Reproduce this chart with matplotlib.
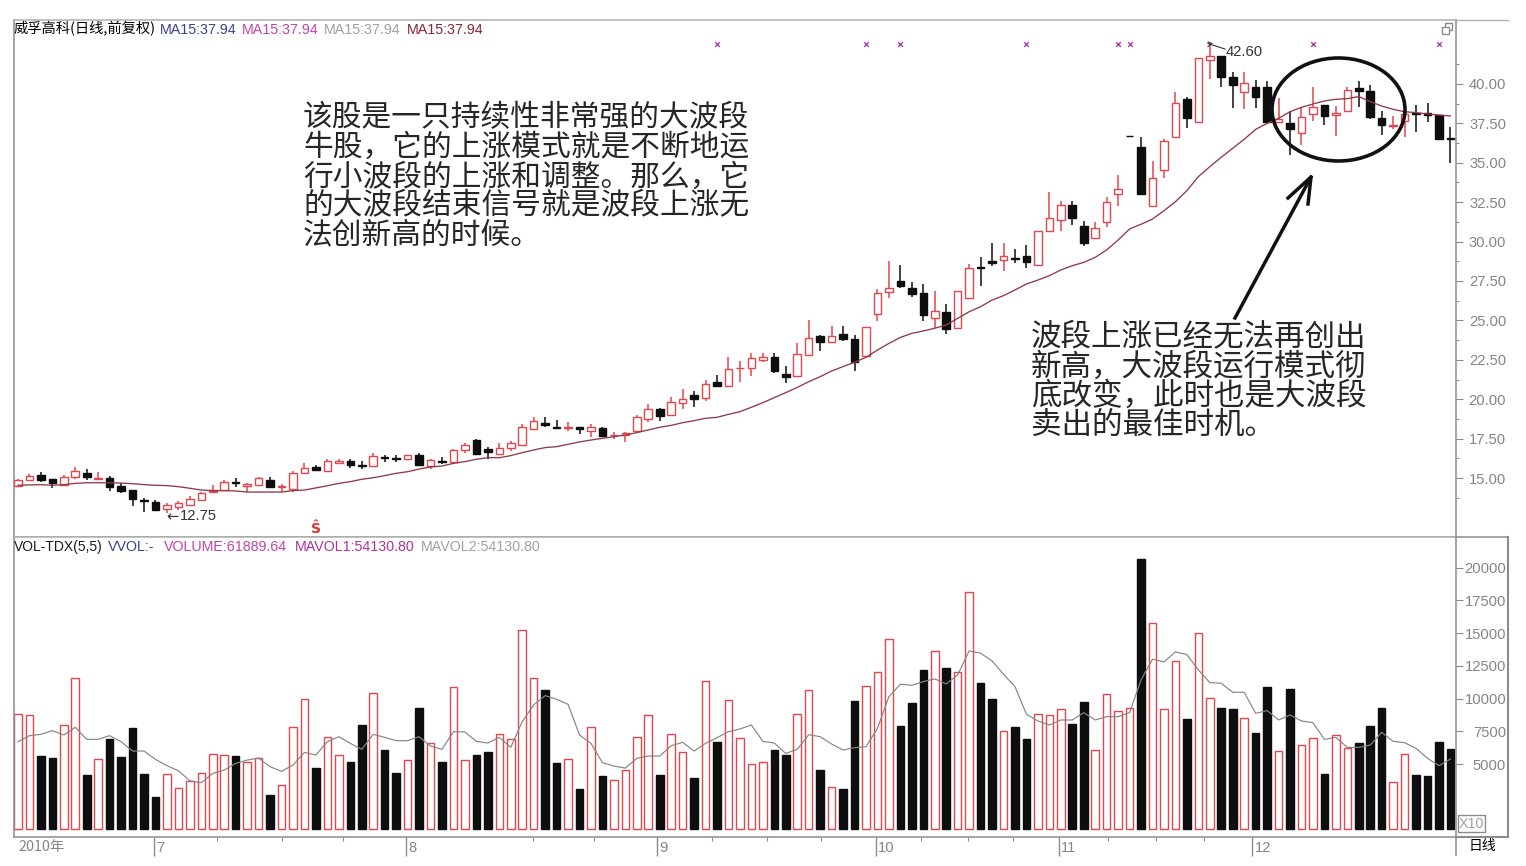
import matplotlib
matplotlib.use("Agg")
import matplotlib.pyplot as plt
from matplotlib.lines import Line2D
from matplotlib.patches import Ellipse, Rectangle

W, H = 1526, 866
SANS = ['Liberation Sans', 'DejaVu Sans']
CJK = ['Noto Sans CJK SC', 'Liberation Sans', 'DejaVu Sans']

candle_dir = ("RRBBRRBRBB" "BBBRRRRRRB" "RRBRRRBRRB" "BRBBRBRBRR" "BBRRRRBBRB" "RBRRRRBRRB"
              "RBRRRRBBRR" "BRBBRRRBBB" "RBRRBBRBBR" "RRBBRRRBBR" "RRBRRBBRBB" "RBRRBRRBBB" "RRBBBB")
volume_dir = ("RRBBRRBRBB" "BBBRRRRRRB" "RRBRRRBRRB" "BRBBRBRBRR" "BBRRRRBBRB" "RBRRRRBRRB"
              "RBRRRRBBRR" "BRBBRRRBBB" "RBRRBBRBBR" "RRBBRRRRBR" "RRBRRBBRBB" "RBRRBRRBBB" "RRBBBB")

body_top = [14.85,15.15,15.19,14.94,15.06,15.47,15.32,15.0,15.02,14.49,
            14.26,13.63,13.48,13.29,13.42,13.65,14.03,14.24,14.73,14.73,
            14.62,15.02,14.87,14.47,15.34,15.64,15.68,16.1,16.1,16.08,
            15.85,16.4,16.33,16.27,16.44,16.48,16.12,16.1,16.76,17.09,
            17.43,16.86,16.88,17.2,18.26,18.64,18.49,18.26,18.26,18.26,
            18.26,18.15,17.75,17.88,18.89,19.4,19.36,19.85,19.99,20.25,
            20.99,21.07,21.9,22.0,22.64,22.66,22.68,21.62,22.89,23.86,
            23.99,24.03,24.12,23.82,24.56,26.76,27.05,27.52,27.08,26.76,
            25.6,25.55,26.89,28.35,28.39,28.79,29.09,28.96,29.11,30.69,
            31.52,32.34,32.3,31.01,30.84,32.51,33.34,36.7,36.0,34.01,
            36.38,38.81,39.05,41.67,41.75,41.78,40.46,40.08,39.79,39.79,
            37.8,37.5,37.88,38.56,38.65,38.18,39.64,39.72,39.58,37.82,
            37.42,38.12,38.16,38.18,38.01,36.57]
body_bot = [14.47,14.87,14.87,14.66,14.56,15.04,15.09,14.92,14.45,14.15,
            13.69,13.52,12.97,13.01,13.14,13.27,13.63,14.13,14.24,14.66,
            14.47,14.54,14.43,14.41,14.28,15.3,15.53,15.45,15.93,15.8,
            15.78,15.76,16.27,16.21,16.23,15.8,15.74,16.04,16.0,16.76,
            16.52,16.65,16.5,16.88,17.12,18.11,18.34,18.17,18.2,18.09,
            17.96,17.65,17.71,17.71,18.0,18.72,18.91,19.02,19.76,19.99,
            20.06,20.82,20.82,21.96,21.96,22.49,21.81,21.43,21.45,22.81,
            23.63,23.65,23.84,22.36,22.74,25.38,26.82,27.18,26.65,25.34,
            25.15,24.45,24.54,26.44,28.35,28.62,28.81,28.92,28.71,28.54,
            30.67,31.37,31.5,29.89,30.23,31.22,33.04,36.7,33.02,32.28,
            34.54,36.66,37.86,37.57,41.52,40.46,39.94,39.47,39.15,37.61,
            37.57,37.12,36.91,38.12,37.95,38.01,38.26,39.55,37.93,37.4,
            37.33,37.65,38.12,38.01,36.51,36.53]
high = [14.96,15.25,15.36,14.94,15.19,15.72,15.55,15.36,15.11,14.66,
        14.26,13.71,13.6,13.39,13.56,13.86,14.09,14.56,14.87,15.02,
        14.66,15.06,15.06,14.62,15.47,15.93,15.8,16.19,16.23,16.23,
        16.08,16.57,16.48,16.44,16.48,16.57,16.19,16.31,16.84,17.2,
        17.48,16.95,17.2,17.33,18.43,18.85,18.89,18.66,18.55,18.26,
        18.41,18.24,17.94,17.94,18.98,19.72,19.42,20.16,20.63,20.5,
        21.22,21.54,22.68,22.43,22.91,22.95,22.91,22.09,23.59,25.03,
        24.07,24.65,24.65,24.07,24.56,26.97,28.75,28.51,27.46,27.31,
        26.84,26.02,26.89,28.58,29.04,29.89,29.89,29.51,29.8,30.69,
        33.15,32.6,32.55,31.33,31.22,32.85,34.2,36.7,36.61,35.09,
        36.53,39.51,39.15,41.67,42.6,41.78,40.78,40.78,40.25,40.19,
        39.13,38.29,38.48,39.81,38.65,38.6,39.79,40.17,39.94,38.29,
        37.99,38.14,38.67,38.81,38.03,37.29]
low = [14.41,14.79,14.75,14.39,14.49,14.96,14.9,14.92,14.2,14.07,
       13.25,12.87,12.89,12.76,12.97,13.22,13.58,14.09,14.2,14.41,
       14.13,14.49,14.35,14.11,14.13,15.25,15.42,15.42,15.89,15.64,
       15.59,15.72,16.04,16.02,16.19,15.76,15.59,15.89,15.95,16.61,
       16.44,16.19,16.46,16.74,17.05,18.07,18.26,18.09,17.96,17.8,
       17.58,17.58,17.5,17.26,17.96,18.55,18.62,18.98,19.38,19.53,
       19.91,20.75,20.8,21.11,21.49,22.34,21.66,21.05,21.43,22.78,
       23.08,23.61,23.69,21.79,22.7,24.98,26.44,27.03,26.51,24.98,
       24.5,24.16,24.52,26.42,27.18,28.47,28.15,28.62,28.32,28.49,
       30.65,30.67,31.03,29.74,30.21,30.95,32.26,36.7,33.0,32.26,
       34.01,36.62,37.19,37.52,40.3,39.83,38.46,38.39,38.48,37.5,
       37.5,35.5,36.13,37.63,37.4,36.72,38.22,38.52,37.78,36.76,
       37.14,36.66,36.93,37.57,36.49,34.97]
price_ma = [14.54,14.56,14.58,14.54,14.58,14.66,14.7,14.7,14.7,14.68,
            14.64,14.58,14.54,14.52,14.45,14.35,14.24,14.2,14.2,14.18,
            14.11,14.11,14.11,14.11,14.2,14.24,14.37,14.51,14.66,14.77,
            14.92,15.02,15.15,15.3,15.4,15.57,15.7,15.76,15.93,16.04,
            16.19,16.29,16.29,16.42,16.61,16.78,16.93,16.99,17.14,17.29,
            17.41,17.52,17.62,17.73,17.88,18.05,18.22,18.34,18.51,18.64,
            18.79,18.85,19.04,19.21,19.49,19.78,20.1,20.42,20.75,21.11,
            21.43,21.79,22.07,22.34,22.66,23.12,23.54,23.92,24.18,24.33,
            24.5,24.71,25.13,25.55,25.87,26.29,26.57,26.93,27.31,27.56,
            27.84,28.2,28.47,28.68,29.0,29.47,30.1,30.8,31.1,31.43,
            31.96,32.53,33.23,34.12,34.75,35.35,35.92,36.49,37.12,37.5,
            37.82,38.24,38.52,38.73,38.92,39.03,39.07,39.2,38.88,38.6,
            38.39,38.24,38.18,38.1,38.03,37.97]
volume = [8800,8720,5610,5430,7980,11550,4160,5400,6940,5530,
          7730,4260,2450,4230,3140,3720,4340,5790,5690,5610,
          5180,5430,2600,3420,7800,10000,4720,7060,5690,5180,
          8010,10460,6090,4340,5330,9280,6630,5180,10910,5330,
          5710,5890,7270,6885,15200,11550,10660,5100,5400,3060,
          7800,4080,3800,4510,7060,8720,4180,7270,5890,3900,
          11370,6650,9890,6960,4970,5180,6090,5660,8800,10630,
          4540,3240,3060,9840,10990,12010,14560,7930,9640,12210,
          13670,12320,12010,18130,11220,10000,7550,7830,6910,8800,
          8720,9230,8030,9740,6070,10350,9080,9260,20630,15760,
          9230,12900,8470,14990,10070,9280,9180,8520,7370,10910,
          5990,10740,6430,6960,4230,7240,6200,6630,7900,9280,
          3600,5790,4160,4080,6710,6170]
volume_ma = [6706,7166,7268,7548,7217,7803,6885,6885,7166,6706,
             5993,5993,5355,4871,4488,3723,3570,4284,4539,5049,
             5304,5457,4794,4437,4922,5891,5687,6706,7089,6579,
             6120,7268,7038,6783,6783,7089,6375,6120,7472,7446,
             6732,6605,7038,6273,8237,9512,10226,9945,9563,7217,
             6579,5100,4845,4692,5432,5610,5610,6401,6656,5993,
             6579,7013,7472,7676,7982,6732,6605,5814,6120,7242,
             7089,6528,6069,6248,6324,7727,10149,11093,11016,11297,
             11501,11118,11807,13643,13464,12878,11858,10914,8798,8288,
             7982,8364,8364,8925,8364,8619,8619,8925,11424,13005,
             12801,13566,13362,12189,11220,11169,10481,10481,8874,9078,
             8364,8747,8288,8160,6885,7038,6273,6273,6452,7421,
             6732,6630,6197,5432,4871,5381]

price_ticks = [15.0, 17.5, 20.0, 22.5, 25.0, 27.5, 30.0, 32.5, 35.0, 37.5, 40.0]
price_minor = [13.75, 16.25, 18.75, 21.25, 23.75, 26.25, 28.75, 31.25, 33.75, 36.25, 38.75, 41.25]
volume_ticks = [5000, 7500, 10000, 12500, 15000, 17500, 20000]
month_pos = [11.87, 33.86, 55.76, 74.87, 90.8, 107.7]
month_labels = ['7', '8', '9', '10', '11', '12']
week_pos = [17.4, 23.0, 28.4, 44.9, 50.3, 60.6, 65.4, 70.1, 78.8, 82.9, 86.8, 95.1, 99.3, 103.5]
signal_idx = [61, 74, 77, 88, 96, 97, 113, 124]
signal_price = 42.54

RED = '#e2474e'
BLACK = '#0e0e0e'
GREY = '#8c8c8c'
TICK = '#858585'

fig = plt.figure(figsize=(W / 100, H / 100), dpi=100, facecolor='white')

def px(x, y):
    return x / W, 1 - y / H

def place(x0, y0, x1, y1):
    return [x0 / W, 1 - y1 / H, (x1 - x0) / W, (y1 - y0) / H]

def ftext(x, y, s, **kw):
    kw.setdefault('va', 'center')
    kw.setdefault('family', SANS)
    kw.setdefault('fontsize', 10.3)
    fx, fy = px(x, y)
    return fig.text(fx, fy, s, **kw)

def fline(xs, ys, **kw):
    pts = [px(a, b) for a, b in zip(xs, ys)]
    fig.add_artist(Line2D([p[0] for p in pts], [p[1] for p in pts], transform=fig.transFigure, **kw))

ax = fig.add_axes(place(13.5, 19.5, 1455.5, 536.5))
av = fig.add_axes(place(13.5, 536.5, 1455.5, 836.7))
xlim = (-0.39, 125.44)
ax.set_xlim(*xlim)
av.set_xlim(*xlim)
ax.set_ylim(11.29, 44.09)
av.set_ylim(-551, 22380)

idx = list(range(len(volume)))

# candles
for i in idx:
    c = RED if candle_dir[i] == 'R' else BLACK
    ax.vlines(i, low[i], high[i], color=c, lw=1.1, zorder=2)
    filled = candle_dir[i] == 'B' or body_top[i] - body_bot[i] < 0.12
    ax.bar(i, body_top[i] - body_bot[i], bottom=body_bot[i], width=0.66,
           facecolor=c if filled else 'white', edgecolor=c, lw=1.0, zorder=3)
ax.plot(idx, price_ma, color='#8f3a44', lw=0.95, zorder=4)
ax.scatter(signal_idx, [signal_price] * len(signal_idx), marker='x', s=12, lw=0.9,
           color='#a832a8', zorder=5)

# volume
for i in idx:
    c = RED if volume_dir[i] == 'R' else BLACK
    av.bar(i, volume[i], width=0.66, facecolor='white' if volume_dir[i] == 'R' else c,
           edgecolor=c, lw=1.0, zorder=2)
av.plot(idx, volume_ma, color='#858585', lw=0.85, zorder=3)

# axes styling
for a in (ax, av):
    for s in a.spines.values():
        s.set_color(GREY)
        s.set_linewidth(1.1)
    a.spines['top'].set_color('#b0b0b0')
    a.yaxis.tick_right()

ax.set_xticks([])
ax.set_yticks(price_ticks)
ax.set_yticklabels([f'{v:.2f}' for v in price_ticks], family=SANS, fontsize=10.6, color=TICK, ha='right')
ax.set_yticks(price_minor, minor=True)
ax.tick_params(axis='y', which='major', length=5, width=0.8, color=GREY, pad=31.5)
ax.tick_params(axis='y', which='minor', length=2.5, width=0.8, color=GREY)

av.set_yticks(volume_ticks)
av.set_yticklabels([str(v) for v in volume_ticks], family=SANS, fontsize=10.6, color=TICK, ha='right')
av.tick_params(axis='y', which='major', length=5, width=0.8, color=GREY, pad=31.5)
av.set_xticks(month_pos)
av.set_xticklabels([])
av.set_xticks(week_pos, minor=True)
av.tick_params(axis='x', which='major', length=13.5, width=1.0, color=GREY)
av.tick_params(axis='x', which='minor', length=3, width=0.8, color=GREY)
for x, lab in zip(month_pos, month_labels):
    av.annotate(lab, xy=(x, 0), xycoords=('data', 'axes fraction'), xytext=(1.6, -8),
                textcoords='offset points', va='center', ha='left', family=SANS,
                fontsize=10.6, color=TICK)

# outer frame of the right panel
fline([1455.5, 1508], [19.5, 19.5], color='#b0b0b0', lw=1.0)
fline([1455.5, 1508], [536.5, 536.5], color=GREY, lw=1.1)
fline([1508, 1508], [536.5, 836.7], color=GREY, lw=1.5)
fline([1455.5, 1508], [836.7, 836.7], color=GREY, lw=1.5)
fline([1455.5, 1455.5], [836.7, 855], color=GREY, lw=1.1)

# header texts
ftext(14, 29, '威孚高科(日线,前复权)', family=CJK, fontsize=10.3, color='black')
for x, c in zip([160, 242, 324, 407], ['#3a4190', '#c044a8', '#a0a0a0', '#8f2433']):
    ftext(x, 29.5, 'MA15:37.94', color=c)
ftext(14, 547, 'VOL-TDX(5,5)', color='#1a1a1a', fontsize=10)
ftext(108, 547, 'VVOL:-', color='#3a4190')
ftext(164, 547, 'VOLUME:61889.64', color='#c044a8')
ftext(295, 547, 'MAVOL1:54130.80', color='#b030a0')
ftext(421, 547, 'MAVOL2:54130.80', color='#a0a0a0')
ftext(18, 847, '2010年', family=CJK, fontsize=10.3, color=TICK)
ftext(1469, 846, '日线', family=CJK, fontsize=10, color='black')

# price marks
ftext(166, 516.5, '←', family=['DejaVu Sans'], color='#333333', fontsize=10.5)
ftext(180, 516.5, '12.75', color='#333333', fontsize=10.6)
ftext(1226, 52, '42.60', color='#333333', fontsize=10.6)
fline([1208, 1225], [43.5, 49], color='#333333', lw=0.8)
fline([1208, 1212, 1208], [46.5, 43.5, 42], color='#333333', lw=0.8)
ftext(316, 529, 'Ŝ', family=['DejaVu Sans'], fontsize=10, fontweight='bold', color='#e03030', ha='center')

# window icon
for (x0, y0) in [(1445, 23), (1442, 27)]:
    fx, fy = px(x0, y0 + 7)
    fig.add_artist(Rectangle((fx, fy), 7 / W, 7 / H, transform=fig.transFigure,
                             facecolor='white', edgecolor=GREY, lw=1.0))

# X10 box
fx, fy = px(1457.5, 832)
fig.add_artist(Rectangle((fx, fy), 27 / W, 17 / H, transform=fig.transFigure,
                         facecolor='white', edgecolor=GREY, lw=1.0))
ftext(1459, 823.5, 'X10', color='#a0a0a0', fontsize=10.3)

# commentary
left_lines = ['该股是一只持续性非常强的大波段', '牛股，它的上涨模式就是不断地运', '行小波段的上涨和调整。那么，它',
              '的大波段结束信号就是波段上涨无', '法创新高的时候。']
for y, s in zip([118, 147, 177, 206, 235], left_lines):
    ftext(303, y, s, family=CJK, fontsize=21.4, color='#262626')
right_lines = ['波段上涨已经无法再创出', '新高，大波段运行模式彻', '底改变，此时也是大波段', '卖出的最佳时机。']
for y, s in zip([338, 367, 396, 425], right_lines):
    ftext(1031, y, s, family=CJK, fontsize=22, color='#262626')

# hand-drawn circle and arrow
cx, cy = px(1338.5, 109.5)
fig.add_artist(Ellipse((cx, cy), 133 / W, 103 / H, transform=fig.transFigure,
                       fill=False, edgecolor='#111111', lw=2.6))
fline([1235, 1311], [318, 177], color='#111111', lw=2.5)
fline([1288, 1311, 1308], [198, 177, 204], color='#111111', lw=2.5)

fig.savefig('out.png', dpi=100, facecolor='white')
